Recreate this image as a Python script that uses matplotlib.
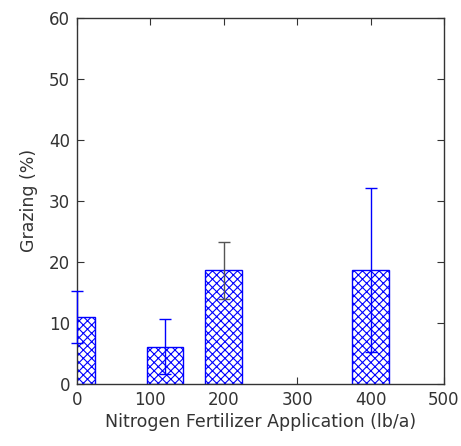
import matplotlib
matplotlib.use("Agg")
import matplotlib.pyplot as plt

plt.rcParams['font.family'] = ['DejaVu Sans']
plt.rcParams['hatch.color'] = 'blue'
plt.rcParams['hatch.linewidth'] = 0.8

# nitrogen rates (lb/a), grazing (%) and error
rates = [0, 120, 200, 400]
grazing = [11.0, 6.1, 18.6, 18.7]
err = [4.3, 4.5, 4.7, 13.4]
err_colors = ['blue', 'blue', '#555555', 'blue']

fig = plt.figure(figsize=(4.61, 4.46), dpi=100)
ax = fig.add_axes([0.167, 0.139, 0.796, 0.821])

ax.bar(rates, grazing, width=50, color='white', edgecolor='blue',
       hatch='xxxx', linewidth=1.0, zorder=2)

for x, y, e, c in zip(rates, grazing, err, err_colors):
    ax.errorbar(x, y, yerr=e, fmt='none', ecolor=c, elinewidth=1.0,
                capsize=4, capthick=1.0, zorder=3, clip_on=False)

ax.set_xlim(0, 500)
ax.set_ylim(0, 60)
ax.set_xticks([0, 100, 200, 300, 400, 500])
ax.set_yticks([0, 10, 20, 30, 40, 50, 60])
ax.tick_params(direction='in', length=5, top=True, right=True,
               labelsize=12, colors='#333333', labelcolor='#333333', pad=5)
for s in ax.spines.values():
    s.set_color('#333333')
    s.set_linewidth(1.0)

ax.set_xlabel('Nitrogen Fertilizer Application (lb/a)', fontsize=12.5,
              color='#333333', labelpad=3)
ax.set_ylabel('Grazing (%)', fontsize=12.5, color='#333333', labelpad=8)

fig.savefig('out.png', dpi=100)
